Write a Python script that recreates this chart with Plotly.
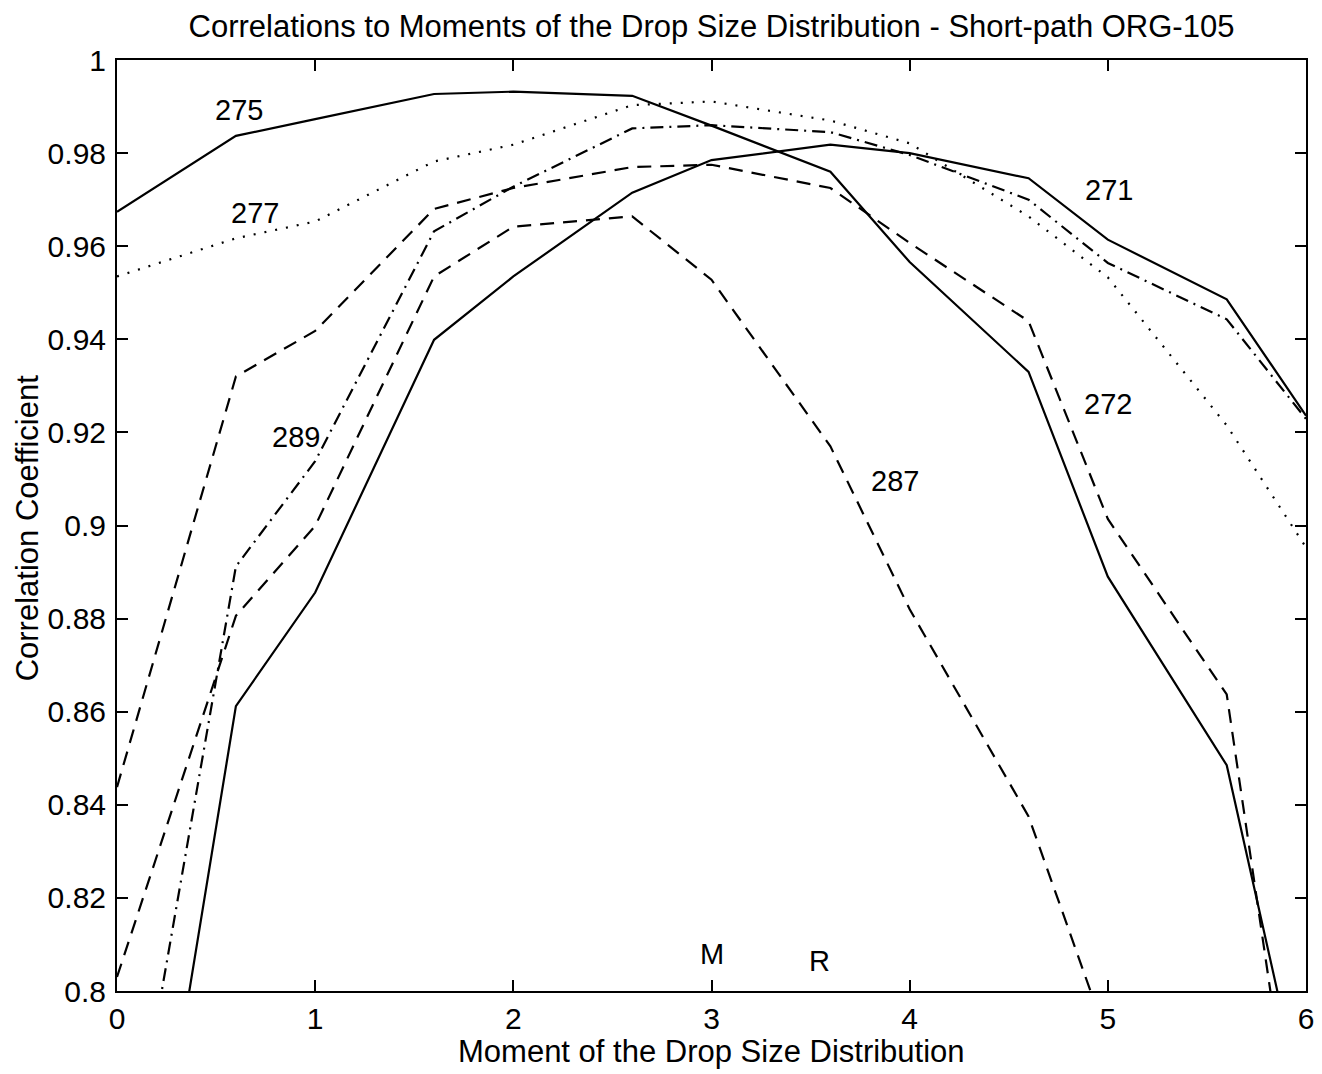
import plotly.graph_objects as go

# Moment of the drop size distribution (x positions of the computed points)
moments = [0, 0.6, 1, 1.6, 2, 2.6, 3, 3.6, 4, 4.6, 5, 5.6, 6]

# Correlation coefficients
r275 = [0.9674, 0.9837, 0.9873, 0.9927, 0.9932, 0.9923, 0.9859, 0.9760, 0.9566, 0.9330, 0.8890, 0.8485, 0.7725]
r277 = [0.9535, 0.9617, 0.9653, 0.9782, 0.9818, 0.9903, 0.9911, 0.9870, 0.9821, 0.9664, 0.9533, 0.9215, 0.8953]
r289 = [0.7450, 0.8912, 0.9138, 0.9632, 0.9728, 0.9853, 0.9860, 0.9845, 0.9796, 0.9700, 0.9564, 0.9443, 0.9229]
r272 = [0.8438, 0.9320, 0.9418, 0.9680, 0.9725, 0.9770, 0.9775, 0.9725, 0.9607, 0.9439, 0.9014, 0.8637, 0.7480]
r287 = [0.8030, 0.8806, 0.8999, 0.9535, 0.9642, 0.9664, 0.9528, 0.9170, 0.8820, 0.8375, 0.7895, None, None]
r271 = [0.7050, 0.8612, 0.8856, 0.9399, 0.9535, 0.9715, 0.9785, 0.9818, 0.9800, 0.9746, 0.9614, 0.9486, 0.9236]

series_names = ["275", "277", "289", "272", "287", "271"]
series_values = [r275, r277, r289, r272, r287, r271]

# Curve labels: (text, x, y)
label_text = ["275", "277", "289", "287", "271", "272", "M", "R"]
label_x = [0.616, 0.697, 0.904, 3.927, 5.005, 5.003, 3.0, 3.543]
label_y = [0.9893, 0.9672, 0.9190, 0.9095, 0.9721, 0.9260, 0.8080, 0.8065]

y_ticks = [0.8, 0.82, 0.84, 0.86, 0.88, 0.9, 0.92, 0.94, 0.96, 0.98, 1.0]
y_tick_text = ["0.8", "0.82", "0.84", "0.86", "0.88", "0.9", "0.92", "0.94", "0.96", "0.98", "1"]
x_ticks = [0, 1, 2, 3, 4, 5, 6]

FONT = "Liberation Sans, Arial, Helvetica, sans-serif"
FS_LABEL = 29
FS_TICK = 30
FS_TITLE = 31

styles = {
    "275": "solid",
    "277": "2px,9px",
    "289": "13px,6px,2px,6px",
    "272": "14px,9px",
    "287": "14px,9px",
    "271": "solid",
}

fig = go.Figure()
for name, vals in zip(series_names, series_values):
    fig.add_trace(go.Scatter(
        x=moments, y=vals, mode="lines", name=name,
        line=dict(color="black", width=2.2, dash=styles[name]),
        connectgaps=False, showlegend=False,
    ))

for t, lx, ly in zip(label_text, label_x, label_y):
    fig.add_annotation(x=lx, y=ly, text=t, showarrow=False,
                       font=dict(family=FONT, size=FS_LABEL, color="black"),
                       xanchor="center", yanchor="middle")

# axis titles as annotations for precise placement
fig.add_annotation(xref="paper", yref="paper", x=0.5, y=-0.0655,
                   text="Moment of the Drop Size Distribution", showarrow=False,
                   font=dict(family=FONT, size=FS_TITLE, color="black"),
                   xanchor="center", yanchor="middle")
fig.add_annotation(xref="paper", yref="paper", x=-0.0757, y=0.498,
                   text="Correlation Coefficient", showarrow=False, textangle=-90,
                   font=dict(family=FONT, size=FS_TITLE, color="black"),
                   xanchor="center", yanchor="middle")

W, H = 1314, 1066  # page body has an 8px margin
fig.update_layout(
    width=W, height=H,
    margin=dict(l=109, r=16, t=52, b=83),
    paper_bgcolor="white", plot_bgcolor="white",
    title=dict(text="Correlations to Moments of the Drop Size Distribution - Short-path ORG-105",
               x=0.5, xref="paper", y=1 - 18 / H, yref="container",
               xanchor="center", yanchor="middle",
               font=dict(family=FONT, size=FS_TITLE, color="black")),
    font=dict(family=FONT, size=FS_TICK, color="black"),
)
fig.update_xaxes(range=[0, 6], tickvals=x_ticks, ticktext=[str(v) for v in x_ticks],
                 ticks="inside", ticklen=11, tickwidth=2, tickcolor="black",
                 showline=True, linecolor="black", linewidth=2, mirror="ticks",
                 showgrid=False, zeroline=False, ticklabelstandoff=0, automargin=False,
                 tickfont=dict(family=FONT, size=FS_TICK, color="black"))
fig.update_yaxes(range=[0.8, 1.0], tickvals=y_ticks, ticktext=y_tick_text,
                 ticks="inside", ticklen=11, tickwidth=2, tickcolor="black",
                 showline=True, linecolor="black", linewidth=2, mirror="ticks",
                 showgrid=False, zeroline=False, ticklabelstandoff=3, automargin=False,
                 tickfont=dict(family=FONT, size=FS_TICK, color="black"))

fig.write_html("out.html")
